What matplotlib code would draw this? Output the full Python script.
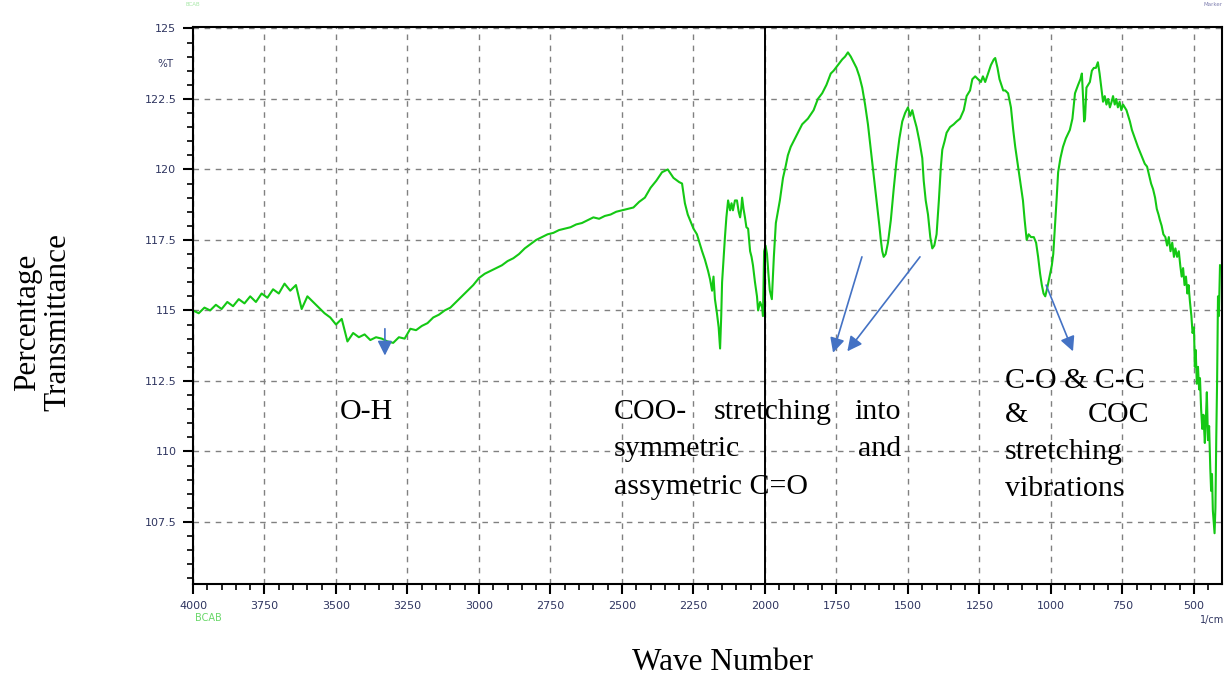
import matplotlib
matplotlib.use("Agg")
import matplotlib.pyplot as plt
from matplotlib.ticker import MultipleLocator

# FTIR spectrum of BCAB (wavenumber in 1/cm, %T)
# split into pieces so each wavenumber list lines up with its %T list
wn_oh = [4000, 3980, 3960, 3940, 3920, 3900, 3880, 3860, 3840, 3820,
         3800, 3780, 3760, 3740, 3720, 3700, 3680, 3660, 3640, 3620, 3600]
t_oh = [115.0, 114.9, 115.1, 115.0, 115.2, 115.05, 115.3, 115.15, 115.4, 115.25,
        115.5, 115.3, 115.6, 115.45, 115.75, 115.6, 115.95, 115.7, 115.9, 115.05, 115.5]

wn_valley = [3580, 3560, 3540, 3520, 3500, 3480, 3460, 3440, 3420, 3400,
             3380, 3360, 3340, 3320, 3300, 3280, 3260, 3240, 3220, 3200,
             3180, 3160, 3140, 3120, 3100, 3080, 3060, 3040, 3020, 3000]
t_valley = [115.3, 115.1, 114.9, 114.75, 114.5, 114.7, 113.9, 114.2, 114.05, 114.15,
            113.95, 114.05, 114.0, 113.9, 113.85, 114.05, 114.0, 114.35, 114.3, 114.45,
            114.55, 114.75, 114.85, 115.0, 115.1, 115.3, 115.5, 115.7, 115.9, 116.15]

wn_rise = [2980, 2960, 2940, 2920, 2900, 2880, 2860, 2840, 2820, 2800,
           2780, 2760, 2740, 2720, 2700, 2680, 2660, 2640, 2620, 2600,
           2580, 2560, 2540, 2520, 2500, 2480, 2460, 2440, 2420, 2400,
           2380, 2360, 2340, 2320, 2300]
t_rise = [116.3, 116.4, 116.5, 116.6, 116.75, 116.85, 117.0, 117.2, 117.35, 117.5,
          117.6, 117.7, 117.75, 117.85, 117.9, 117.95, 118.05, 118.1, 118.2, 118.3,
          118.25, 118.35, 118.4, 118.5, 118.55, 118.6, 118.65, 118.85, 119.0, 119.35,
          119.6, 119.9, 120.0, 119.7, 119.55]

wn_coo = [2290, 2280, 2270, 2262, 2250, 2238, 2229, 2220, 2210, 2199,
          2192, 2185, 2180, 2175, 2168, 2162, 2157, 2153, 2150, 2145,
          2140, 2135, 2129, 2122, 2117, 2112, 2105, 2098, 2092, 2087,
          2083, 2080, 2075, 2070, 2065, 2059, 2052, 2047, 2042, 2035,
          2028, 2024, 2017, 2010, 2007, 2003, 1998, 1993, 1988, 1983,
          1976, 1969, 1962, 1955, 1948, 1937, 1928, 1920]
t_coo = [119.5, 118.8, 118.4, 118.2, 117.9, 117.7, 117.4, 117.1, 116.8, 116.4,
         116.1, 115.7, 116.2, 115.4, 114.9, 114.4, 113.65, 114.8, 116.0, 116.8,
         117.6, 118.3, 118.9, 118.55, 118.8, 118.55, 118.9, 118.9, 118.5, 118.3,
         118.6, 119.0, 118.6, 118.3, 117.95, 117.9, 117.1, 116.9, 116.6, 116.0,
         115.5, 115.0, 115.3, 115.1, 114.8, 117.1, 117.3, 117.0, 116.3, 115.7,
         115.4, 116.9, 118.1, 118.5, 118.9, 119.7, 120.1, 120.5]

wn_co = [1910, 1900, 1885, 1870, 1850, 1830, 1815, 1800, 1785, 1770,
         1760, 1745, 1730, 1720, 1710, 1700, 1690, 1680, 1670, 1660,
         1650, 1640, 1630, 1620, 1610, 1600, 1595, 1590, 1585, 1578,
         1570, 1560, 1550, 1540, 1530, 1520, 1510, 1500]
t_co = [120.8, 121.0, 121.3, 121.6, 121.8, 122.1, 122.5, 122.7, 123.0, 123.4,
        123.5, 123.7, 123.9, 124.0, 124.15, 124.0, 123.8, 123.6, 123.3, 122.9,
        122.3, 121.6, 120.7, 119.8, 118.9, 118.0, 117.5, 117.1, 116.9, 117.0,
        117.4, 118.2, 119.3, 120.3, 121.1, 121.7, 122.0, 122.2]

wn_mid = [1492, 1485, 1478, 1470, 1460, 1450, 1445, 1438, 1430, 1422,
          1415, 1408, 1400, 1392, 1385, 1380, 1372, 1365, 1353, 1340,
          1330, 1318, 1305, 1295, 1283, 1275, 1265, 1255, 1245, 1238,
          1230, 1220, 1210, 1200, 1195, 1187, 1180, 1167, 1160, 1150,
          1140, 1132, 1125, 1115, 1105, 1098, 1092, 1085, 1078, 1070,
          1060, 1052, 1045, 1038, 1032, 1026, 1020, 1013, 1005]
t_mid = [121.9, 122.1, 121.8, 121.5, 121.0, 120.4, 119.6, 118.9, 118.4, 117.6,
         117.2, 117.3, 117.7, 118.9, 120.1, 120.7, 121.0, 121.3, 121.5, 121.6,
         121.7, 121.8, 122.1, 122.6, 122.8, 123.2, 123.3, 123.2, 123.1, 123.3,
         123.1, 123.4, 123.7, 123.9, 123.95, 123.6, 123.2, 122.8, 122.8, 122.7,
         122.2, 121.4, 120.8, 120.1, 119.4, 118.9, 118.2, 117.5, 117.7, 117.6,
         117.6, 117.4, 116.9, 116.3, 115.9, 115.6, 115.5, 115.8, 116.2]

wn_low = [997, 992, 986, 980, 975, 967, 958, 948, 934, 925,
          916, 905, 897, 892, 888, 884, 881, 876, 870, 864,
          857, 850, 843, 836, 830, 824, 818, 812, 806, 800,
          794, 788, 783, 777, 772, 766, 760, 754, 748, 742,
          736, 730, 724, 717, 710, 703, 696, 688, 680, 672,
          664, 657, 650, 643, 636, 630, 624, 619, 613, 607,
          600, 594, 588, 582, 576, 570, 565, 559, 553, 548,
          543, 538, 533, 528, 523, 519, 514, 509, 505, 500,
          497, 494, 490, 486, 482, 479, 475, 471, 467, 462,
          459, 455, 451, 447, 443, 440, 437, 434, 431, 428,
          425, 422, 419, 416, 413, 409]
t_low = [116.6, 117.0, 118.0, 119.0, 119.9, 120.4, 120.8, 121.1, 121.4, 121.8,
         122.7, 123.0, 123.2, 123.4, 122.6, 121.7, 121.8, 122.9, 123.0, 123.1,
         123.5, 123.6, 123.6, 123.8, 123.4, 122.9, 122.4, 122.6, 122.3, 122.5,
         122.2, 122.4, 122.6, 122.3, 122.5, 122.2, 122.4, 122.1, 122.3, 122.2,
         122.1, 121.9, 121.7, 121.4, 121.2, 121.0, 120.8, 120.6, 120.4, 120.2,
         120.1, 119.8, 119.5, 119.3, 119.0, 118.6, 118.4, 118.2, 118.0, 117.7,
         117.6, 117.3, 117.6, 117.1, 117.4, 116.9, 117.2, 116.9, 117.1, 116.6,
         116.2, 116.5, 115.9, 116.2, 115.6, 115.9, 115.3, 114.8, 114.2, 114.4,
         113.0, 113.6, 112.4, 113.0, 112.2, 112.6, 111.5, 110.8, 111.3, 110.3,
         111.0, 112.1, 110.4, 110.9, 109.4, 108.6, 109.2, 107.9, 107.5, 107.1,
         108.0, 110.5, 112.6, 115.5, 114.8, 116.6]

wavenumber = wn_oh + wn_valley + wn_rise + wn_coo + wn_co + wn_mid + wn_low
transmittance = t_oh + t_valley + t_rise + t_coo + t_co + t_mid + t_low

x_ticks = [4000, 3750, 3500, 3250, 3000, 2750, 2500, 2250, 2000, 1750, 1500, 1250, 1000, 750, 500]
y_ticks = [107.5, 110, 112.5, 115, 117.5, 120, 122.5, 125]
y_ticklabels = ["107.5", "110", "112.5", "115", "117.5", "120", "122.5", "125"]

W, H = 1227, 677
GREEN = "#14c814"
BLUE = "#4472C4"
TICKCOL = "#2f3560"
SERIF = ["Liberation Serif", "DejaVu Serif"]

fig = plt.figure(figsize=(W / 100, H / 100), dpi=100)
ax = fig.add_axes([193 / W, 1 - 584 / H, (1222 - 193) / W, (584 - 27) / H])

ax.plot(wavenumber, transmittance, color=GREEN, linewidth=1.5)

ax.set_xlim(4000, 402)
ax.set_ylim(105.3, 125.05)
ax.set_xticks(x_ticks)
ax.set_xticklabels([str(t) for t in x_ticks])
ax.set_yticks(y_ticks)
ax.set_yticklabels(y_ticklabels)
ax.xaxis.set_minor_locator(MultipleLocator(50))
ax.yaxis.set_minor_locator(MultipleLocator(0.5))
ax.tick_params(which="major", direction="out", length=7, width=1.5, colors="black",
               labelcolor=TICKCOL, labelsize=8, pad=5)
ax.tick_params(which="minor", direction="out", length=4, width=1.2, colors="black")
for side in ["left", "right", "top", "bottom"]:
    ax.spines[side].set_linewidth(1.5)
ax.grid(which="major", color="#808080", linestyle=(0, (4, 4)), linewidth=1.0)
ax.axvline(2000, color="black", linewidth=1.4)

# small instrument texts
fig.text(165 / W, 1 - 64 / H, "%T", fontsize=7.5, color=TICKCOL, ha="center", va="center")
fig.text(195 / W, 1 - 618 / H, "BCAB", fontsize=7, color="#6ad86a", ha="left", va="center")
fig.text(1224 / W, 1 - 620 / H, "1/cm", fontsize=7, color=TICKCOL, ha="right", va="center")
fig.text(185 / W, 1 - 5 / H, "BCAB", fontsize=4, color="#a8e8a8", ha="left", va="center")
fig.text(1222 / W, 1 - 5 / H, "Marker", fontsize=4, color="#8080b0", ha="right", va="center")

# outside axis titles
fig.text(43 / W, 1 - 322 / H, "Percentage\nTransmittance", rotation=90, fontsize=22.5,
         family=SERIF, ha="center", va="center", linespacing=1.05)
fig.text(722 / W, 1 - 662 / H, "Wave Number", fontsize=22.5, family=SERIF, ha="center", va="center")


# band annotations
def note(px, py, text, ha="left"):
    fig.text(px / W, 1 - py / H, text, fontsize=21.5, family=SERIF, ha=ha, va="center")


note(340, 412, "O-H")
note(614, 412, "COO-")
note(714, 412, "stretching")
note(901, 412, "into", ha="right")
note(614, 449, "symmetric")
note(901, 449, "and", ha="right")
note(614, 487, "assymetric C=O")
note(1005, 381, "C-O & C-C")
note(1005, 415, "&")
note(1149, 415, "COC", ha="right")
note(1005, 452, "stretching")
note(1005, 489, "vibrations")

arrow_kw = dict(arrowstyle="-|>", mutation_scale=22, color=BLUE, lw=1.2, shrinkA=0, shrinkB=0)
ax.annotate("", xy=(3329, 113.4), xytext=(3329, 114.35), arrowprops=arrow_kw)
ax.annotate("", xy=(1762, 113.5), xytext=(1661, 116.9), arrowprops=arrow_kw)
ax.annotate("", xy=(1712, 113.55), xytext=(1458, 116.9), arrowprops=arrow_kw)
ax.annotate("", xy=(923, 113.55), xytext=(1017, 115.9), arrowprops=arrow_kw)

fig.savefig("out.png", dpi=100)
